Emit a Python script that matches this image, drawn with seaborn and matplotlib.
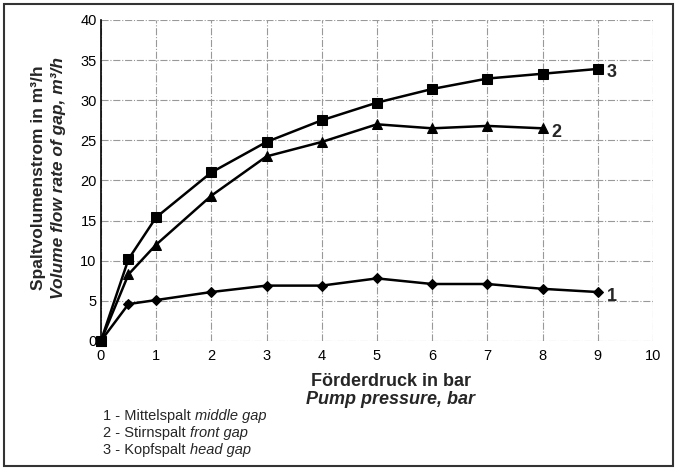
import matplotlib
matplotlib.use("Agg")
import matplotlib.pyplot as plt
import pandas as pd
import seaborn as sns
from matplotlib.patches import Rectangle

sns.set_theme(style="white")
plt.rcParams["font.family"] = ["Liberation Sans", "DejaVu Sans"]

# pump pressure in bar
x_middle = [0, 0.5, 1, 2, 3, 4, 5, 6, 7, 8, 9]
y_middle = [0, 4.6, 5.1, 6.1, 6.9, 6.9, 7.8, 7.1, 7.1, 6.5, 6.1]
x_front = [0, 0.5, 1, 2, 3, 4, 5, 6, 7, 8]
y_front = [0, 8.3, 12.0, 18.1, 23.0, 24.8, 27.0, 26.5, 26.8, 26.5]
x_head = [0, 0.5, 1, 2, 3, 4, 5, 6, 7, 8, 9]
y_head = [0, 10.2, 15.4, 21.0, 24.8, 27.5, 29.7, 31.4, 32.7, 33.3, 33.9]

series_ids = ["1", "2", "3"]
legend_de = ["Mittelspalt", "Stirnspalt", "Kopfspalt"]
legend_en = ["middle gap", "front gap", "head gap"]


def main():
    fig = plt.figure(figsize=(6.77, 4.70), dpi=100)
    ax = fig.add_axes([0.149, 0.2745, 0.8155, 0.683])

    series = [
        (x_middle, y_middle, "D", 5.5),
        (x_front, y_front, "^", 6.5),
        (x_head, y_head, "s", 7.5),
    ]
    for (xs, ys, mk, ms), sid in zip(series, series_ids):
        df = pd.DataFrame({"p": xs, "q": ys})
        sns.lineplot(data=df, x="p", y="q", ax=ax, color="black", linewidth=1.8,
                     marker=mk, markersize=ms, markeredgecolor="black",
                     clip_on=False, zorder=3)
        ax.text(xs[-1] + 0.16, ys[-1] - 0.5, sid, fontsize=13, fontweight="bold",
                va="center", ha="left")

    ax.set_xlim(0, 10)
    ax.set_ylim(0, 40)
    ax.set_xticks(range(0, 11))
    ax.set_yticks(range(0, 41, 5))
    ax.tick_params(axis="both", labelsize=10.5, length=0, colors="black")
    ax.tick_params(axis="x", pad=6)
    ax.tick_params(axis="y", pad=3)
    ax.grid(True, color="#999999", linestyle="-.", linewidth=0.8)
    for s in ["top", "right", "bottom"]:
        ax.spines[s].set_visible(False)
    ax.spines["left"].set_color("black")
    ax.spines["left"].set_linewidth(1.2)
    ax.set_xlabel("")
    ax.set_ylabel("")

    # y axis title, two lines
    fig.text(0.057, 0.621, "Spaltvolumenstrom in m³/h", rotation=90,
             fontsize=12.5, fontweight="bold", ha="center", va="center")
    fig.text(0.086, 0.621, "Volume flow rate of gap, m³/h", rotation=90,
             fontsize=12.5, fontweight="bold", fontstyle="italic",
             ha="center", va="center")

    # x axis title, two lines
    fig.text(0.577, 0.189, "Förderdruck in bar", fontsize=13,
             fontweight="bold", ha="center", va="center")
    fig.text(0.577, 0.149, "Pump pressure, bar", fontsize=13,
             fontweight="bold", fontstyle="italic", ha="center", va="center")

    # legend text
    fig.canvas.draw()
    renderer = fig.canvas.get_renderer()
    for i, (sid, de, en) in enumerate(zip(series_ids, legend_de, legend_en)):
        yy = 0.115 - i * 0.036
        t = fig.text(0.152, yy, f"{sid} - {de} ", fontsize=10.5, va="center")
        bb = t.get_window_extent(renderer)
        fig.text(bb.x1 / fig.bbox.width, yy, en, fontsize=10.5,
                 fontstyle="italic", va="center")

    fig.patches.append(Rectangle((0.006, 0.008), 0.988, 0.984,
                                 transform=fig.transFigure, fill=False,
                                 edgecolor="#333333", linewidth=1.5))

    fig.savefig("out.png", dpi=100)


if __name__ == "__main__":
    main()
